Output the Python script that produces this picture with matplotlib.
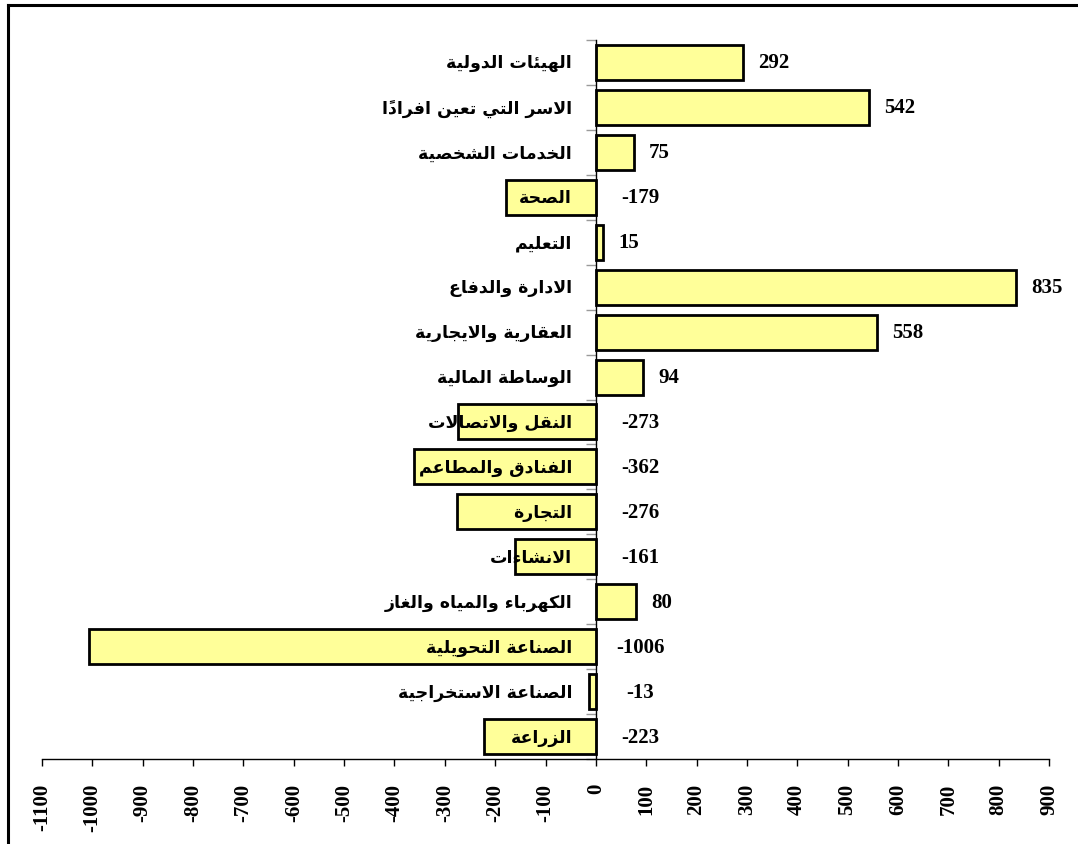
import numpy as np
import matplotlib
matplotlib.use('Agg')
import matplotlib.pyplot as plt
from matplotlib.lines import Line2D

# ---------------- data ----------------
categories = [
    'الهيئات الدولية',
    'الاسر التي تعين افراداً',
    'الخدمات الشخصية',
    'الصحة',
    'التعليم',
    'الادارة والدفاع',
    'العقارية والايجارية',
    'الوساطة المالية',
    'النقل والاتصالات',
    'الفنادق والمطاعم',
    'التجارة',
    'الانشاءات',
    'الكهرباء والمياه والغاز',
    'الصناعة التحويلية',
    'الصناعة الاستخراجية',
    'الزراعة',
]
values = [292, 542, 75, -179, 15, 835, 558, 94, -273, -362, -276, -161, 80, -1006, -13, -223]
x_ticks = [-1100, -1000, -900, -800, -700, -600, -500, -400, -300, -200, -100,
           0, 100, 200, 300, 400, 500, 600, 700, 800, 900]

# ---------------- simple Arabic shaping ----------------
def _f(base, n):
    cps = [chr(base + i) for i in range(n)]
    return tuple(cps + [None] * (4 - n))

FORMS = {
    'ء': _f(0xFE80, 1), 'آ': _f(0xFE81, 2), 'أ': _f(0xFE83, 2), 'ؤ': _f(0xFE85, 2),
    'إ': _f(0xFE87, 2), 'ئ': _f(0xFE89, 4), 'ا': _f(0xFE8D, 2), 'ب': _f(0xFE8F, 4),
    'ة': _f(0xFE93, 2), 'ت': _f(0xFE95, 4), 'ث': _f(0xFE99, 4), 'ج': _f(0xFE9D, 4),
    'ح': _f(0xFEA1, 4), 'خ': _f(0xFEA5, 4), 'د': _f(0xFEA9, 2), 'ذ': _f(0xFEAB, 2),
    'ر': _f(0xFEAD, 2), 'ز': _f(0xFEAF, 2), 'س': _f(0xFEB1, 4), 'ش': _f(0xFEB5, 4),
    'ص': _f(0xFEB9, 4), 'ض': _f(0xFEBD, 4), 'ط': _f(0xFEC1, 4), 'ظ': _f(0xFEC5, 4),
    'ع': _f(0xFEC9, 4), 'غ': _f(0xFECD, 4), 'ف': _f(0xFED1, 4), 'ق': _f(0xFED5, 4),
    'ك': _f(0xFED9, 4), 'ل': _f(0xFEDD, 4), 'م': _f(0xFEE1, 4), 'ن': _f(0xFEE5, 4),
    'ه': _f(0xFEE9, 4), 'و': _f(0xFEED, 2), 'ى': _f(0xFEEF, 2), 'ي': _f(0xFEF1, 4),
}
LAM_ALEF = {'آ': ('\uFEF5', '\uFEF6'), 'أ': ('\uFEF7', '\uFEF8'),
            'إ': ('\uFEF9', '\uFEFA'), 'ا': ('\uFEFB', '\uFEFC')}


def _is_mark(c):
    return '\u064B' <= c <= '\u065F' or c == '\u0670'


def shape(text):
    clusters = []
    for ch in text:
        if _is_mark(ch) and clusters:
            clusters[-1][1].append(ch)
        else:
            clusters.append([ch, []])
    merged = []
    i = 0
    while i < len(clusters):
        c = clusters[i]
        if c[0] == 'ل' and not c[1] and i + 1 < len(clusters) and clusters[i + 1][0] in LAM_ALEF:
            merged.append(['LA' + clusters[i + 1][0], clusters[i + 1][1]])
            i += 2
        else:
            merged.append(c)
            i += 1

    def can_join_next(tok):
        if tok.startswith('LA'):
            return False
        return tok in FORMS and FORMS[tok][2] is not None

    def can_join_prev(tok):
        if tok.startswith('LA'):
            return True
        return tok in FORMS and FORMS[tok][1] is not None

    out = []
    n = len(merged)
    for i, (tok, marks) in enumerate(merged):
        prev = merged[i - 1][0] if i > 0 else None
        nxt = merged[i + 1][0] if i + 1 < n else None
        jp = prev is not None and can_join_next(prev) and can_join_prev(tok)
        jn = nxt is not None and can_join_next(tok) and can_join_prev(nxt)
        if tok.startswith('LA'):
            g = LAM_ALEF[tok[2]][1 if jp else 0]
        elif tok in FORMS:
            iso, fin, ini, med = FORMS[tok]
            if jp and jn:
                g = med
            elif jp:
                g = fin
            elif jn:
                g = ini
            else:
                g = iso
        else:
            g = tok
        out.append(g + ''.join(marks))
    return ''.join(reversed(out))


# ---------------- figure ----------------
W, H = 1078, 845
fig = plt.figure(figsize=(W / 100, H / 100), dpi=100)
fig.patch.set_facecolor('white')

ax_l, ax_r, ax_t, ax_b = 42, 1049, 41, 760
ax = fig.add_axes([ax_l / W, 1 - ax_b / H, (ax_r - ax_l) / W, (ax_b - ax_t) / H])

y = np.arange(len(values))
ax.barh(y, values, height=0.78, color='#FFFF99', edgecolor='black', linewidth=2.0, zorder=2)

ax.set_xlim(-1100, 900)
ax.set_ylim(len(values) - 0.5, -0.5)

ax.set_xticks(x_ticks)
ax.set_xticklabels([str(t) for t in x_ticks], rotation=90,
                   fontfamily='Liberation Serif', fontweight='bold', fontsize=15)
ax.tick_params(axis='x', direction='out', length=5, width=1, pad=12, colors='black')

ax.set_yticks(np.arange(-0.5, len(values), 1.0))
ax.set_yticklabels([])
ax.tick_params(axis='y', direction='out', length=7, width=1, color='#9a9a9a')

for s in ('top', 'right'):
    ax.spines[s].set_visible(False)
ax.spines['left'].set_position(('data', 0))
ax.spines['left'].set_linewidth(1.0)
ax.spines['left'].set_zorder(3)
ax.spines['bottom'].set_linewidth(1.0)

for i, (cat, v) in enumerate(zip(categories, values)):
    ax.annotate(shape(cat), xy=(0, i), xytext=(-17, 0), textcoords='offset points',
                ha='right', va='center', fontfamily='DejaVu Sans', fontweight='bold',
                fontsize=12.5, zorder=5)
    label = str(v) if v >= 0 else '-' + str(abs(v))
    if v >= 0:
        ax.annotate(label, xy=(v, i), xytext=(11, 0), textcoords='offset points',
                    ha='left', va='center', fontfamily='Liberation Serif',
                    fontweight='bold', fontsize=15, zorder=5)
    else:
        ax.annotate(label, xy=(0, i), xytext=(32, 0), textcoords='offset points',
                    ha='center', va='center', fontfamily='Liberation Serif',
                    fontweight='bold', fontsize=15, zorder=5)

# outer frame (left and top edges visible)
fig.add_artist(Line2D([7.5 / W, 7.5 / W], [0, 1 - 5.5 / H], transform=fig.transFigure,
                      color='black', linewidth=2.2))
fig.add_artist(Line2D([7.5 / W, 1], [1 - 5.5 / H, 1 - 5.5 / H], transform=fig.transFigure,
                      color='black', linewidth=2.2))

fig.savefig('out.png', dpi=100, facecolor='white')
